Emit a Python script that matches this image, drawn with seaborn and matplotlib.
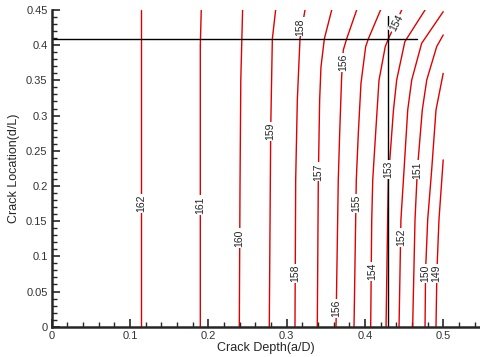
import numpy as np
import pandas as pd
import seaborn as sns
import matplotlib
matplotlib.use("Agg")
import matplotlib.pyplot as plt
from matplotlib.ticker import MultipleLocator, FuncFormatter

# contour lines: level -> (crack depth a/D, crack location d/L)
contours = {
    162: ([0.1137, 0.1137], [0.0, 0.45]),
    161: ([0.1898, 0.1898, 0.1910], [0.0, 0.40, 0.45]),
    160: ([0.2396, 0.2405, 0.2415, 0.2438], [0.0, 0.20, 0.35, 0.45]),
    159: ([0.2779, 0.2797, 0.2818, 0.2860], [0.0, 0.28, 0.409, 0.45]),
    158: ([0.3107, 0.3116, 0.3137, 0.3171, 0.3235], [0.0, 0.2085, 0.322, 0.409, 0.45]),
    157: ([0.3392, 0.3405, 0.3422, 0.3439, 0.3482, 0.3576],
          [0.0, 0.2085, 0.322, 0.369, 0.409, 0.45]),
    156: ([0.3631, 0.3660, 0.3678, 0.3703, 0.3724, 0.3767, 0.3895],
          [0.0, 0.2085, 0.275, 0.355, 0.393, 0.409, 0.45]),
    155: ([0.3861, 0.3890, 0.3916, 0.3950, 0.4010, 0.4044, 0.4200],
          [0.0, 0.2085, 0.275, 0.346, 0.398, 0.409, 0.45]),
    154: ([0.4074, 0.4087, 0.4100, 0.4140, 0.4180, 0.4260, 0.4300, 0.4470],
          [0.0, 0.15, 0.2085, 0.28, 0.35, 0.398, 0.409, 0.45]),
    153: ([0.4270, 0.4290, 0.4300, 0.4365, 0.4406, 0.4510, 0.4768],
          [0.0, 0.15, 0.21, 0.308, 0.3506, 0.405, 0.45]),
    152: ([0.4436, 0.4460, 0.4500, 0.4547, 0.4598, 0.4725, 0.5000],
          [0.0, 0.152, 0.223, 0.308, 0.3506, 0.4027, 0.4476]),
    151: ([0.4610, 0.4640, 0.4670, 0.4733, 0.4790, 0.4917, 0.5000],
          [0.0, 0.152, 0.223, 0.308, 0.3506, 0.398, 0.4145]),
    150: ([0.4768, 0.4775, 0.4802, 0.4853, 0.4908, 0.5000],
          [0.0, 0.08, 0.152, 0.223, 0.308, 0.36]),
    149: ([0.4908, 0.4920, 0.4946, 0.5000], [0.0, 0.08, 0.152, 0.237]),
}

# label placements (level, depth, location, rotation)
labels = [
    (162, 0.1137, 0.175, 90), (161, 0.1898, 0.173, 90), (160, 0.2396, 0.126, 90),
    (159, 0.2797, 0.277, 90), (158, 0.3180, 0.426, 90), (158, 0.3107, 0.076, 90),
    (157, 0.3400, 0.220, 90), (156, 0.3720, 0.376, 90), (156, 0.3631, 0.026, 90),
    (155, 0.3887, 0.175, 90), (154, 0.4405, 0.431, 62), (154, 0.4087, 0.078, 90),
    (153, 0.4300, 0.223, 90), (152, 0.4470, 0.127, 90), (151, 0.4670, 0.223, 90),
    (150, 0.4768, 0.076, 90), (149, 0.4908, 0.076, 90),
]

# black guide lines
h_line_y, h_line_x = 0.409, (0.0, 0.466)
v_line_x, v_line_y = 0.430, (0.0, 0.441)

rows = []
for lev, (xs, ys) in contours.items():
    for i, (x, y) in enumerate(zip(xs, ys)):
        rows.append({"level": lev, "order": i, "depth": x, "loc": y})
df = pd.DataFrame(rows)

sns.set_style("ticks")
plt.rcParams["font.family"] = ["Liberation Sans", "DejaVu Sans"]

fig = plt.figure(figsize=(4.8, 3.57), dpi=100)
ax = fig.add_axes([0.1077, 0.0849, 0.8923, 0.8871])

sns.lineplot(data=df, x="depth", y="loc", units="level", estimator=None,
             sort=False, color="#e00000", linewidth=1.0, ax=ax, legend=False)

ax.plot(list(h_line_x), [h_line_y, h_line_y], color="black", lw=1.0)
ax.plot([v_line_x, v_line_x], list(v_line_y), color="black", lw=1.0)

for lev, x, y, rot in labels:
    ax.text(x, y, str(lev), rotation=rot, ha="center", va="center", fontsize=7.5,
            color="#222222", zorder=5,
            bbox=dict(facecolor="white", edgecolor="none", pad=0.6))

ax.set_xlim(0, 0.547)
ax.set_ylim(0, 0.45)
ax.xaxis.set_major_locator(MultipleLocator(0.1))
ax.xaxis.set_minor_locator(MultipleLocator(0.02))
ax.yaxis.set_major_locator(MultipleLocator(0.05))
ax.yaxis.set_minor_locator(MultipleLocator(0.01))
fmt = FuncFormatter(lambda v, p: "%g" % round(v, 3))
ax.xaxis.set_major_formatter(fmt)
ax.yaxis.set_major_formatter(fmt)
ax.tick_params(which="major", direction="in", length=6, width=1.2, labelsize=8,
               pad=3, labelcolor="#333333")
ax.tick_params(which="minor", direction="in", length=3.5, width=1.0)
sns.despine(ax=ax)
for s in ("left", "bottom"):
    ax.spines[s].set_linewidth(1.8)

ax.set_xlabel("Crack Depth(a/D)", fontsize=9, labelpad=1)
ax.set_ylabel("Crack Location(d/L)", fontsize=9, labelpad=4)

fig.savefig("out.png", dpi=100)
